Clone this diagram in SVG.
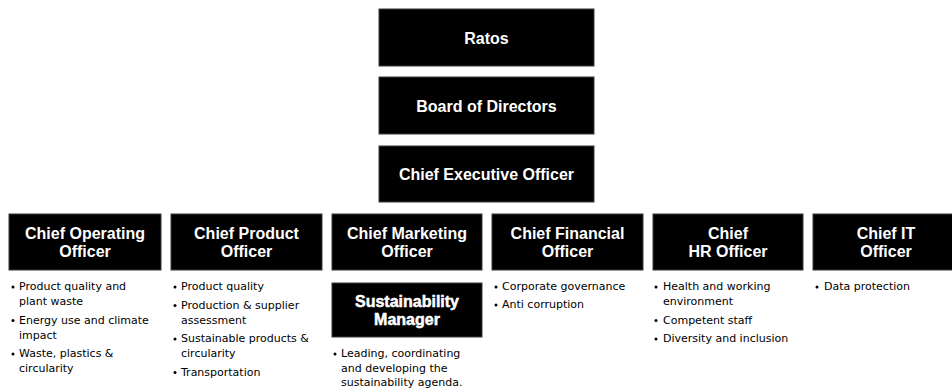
<svg xmlns="http://www.w3.org/2000/svg" width="952" height="389" viewBox="0 0 952 389">
  <style>
    .box { fill: #000; stroke: #3a3a3a; stroke-width: 1; }
    .title { font-family: "Liberation Sans", Arial, sans-serif; font-weight: bold; font-size: 16px; fill: #fff; text-anchor: middle; }
    .item { font-family: "DejaVu Sans", "Liberation Sans", sans-serif; font-size: 11px; fill: #000; }
    .dot { fill: #000; }
  </style>
  <rect width="952" height="389" fill="#fff"/>

  <!-- no connecting lines are drawn between the boxes -->
  <g id="connectors"/>

  <!-- top chain -->
  <g id="ratos">
    <rect class="box" x="379" y="9" width="215" height="57"/>
    <text class="title" x="486.5" y="44">Ratos</text>
  </g>
  <g id="board">
    <rect class="box" x="379" y="77" width="215" height="57"/>
    <text class="title" x="486.5" y="112">Board of Directors</text>
  </g>
  <g id="ceo">
    <rect class="box" x="379" y="146" width="215" height="56"/>
    <text class="title" x="486.5" y="180">Chief Executive Officer</text>
  </g>

  <!-- executive row -->
  <g id="coo">
    <rect class="box" x="9" y="214" width="152" height="56"/>
    <text class="title" x="85" y="239">Chief Operating</text>
    <text class="title" x="85" y="257">Officer</text>
    <circle class="dot" cx="13" cy="287" r="1.5"/>
    <text class="item" x="19" y="290">Product quality and</text>
    <text class="item" x="19" y="305">plant waste</text>
    <circle class="dot" cx="13" cy="320.5" r="1.5"/>
    <text class="item" x="19" y="323.5">Energy use and climate</text>
    <text class="item" x="19" y="338.5">impact</text>
    <circle class="dot" cx="13" cy="354" r="1.5"/>
    <text class="item" x="19" y="357">Waste, plastics &amp;</text>
    <text class="item" x="19" y="372">circularity</text>
  </g>

  <g id="cpo">
    <rect class="box" x="171" y="214" width="151" height="56"/>
    <text class="title" x="246.5" y="239">Chief Product</text>
    <text class="title" x="246.5" y="257">Officer</text>
    <circle class="dot" cx="175" cy="287" r="1.5"/>
    <text class="item" x="181" y="290">Product quality</text>
    <circle class="dot" cx="175" cy="305.5" r="1.5"/>
    <text class="item" x="181" y="308.5">Production &amp; supplier</text>
    <text class="item" x="181" y="323.5">assessment</text>
    <circle class="dot" cx="175" cy="339" r="1.5"/>
    <text class="item" x="181" y="342">Sustainable products &amp;</text>
    <text class="item" x="181" y="357">circularity</text>
    <circle class="dot" cx="175" cy="372.5" r="1.5"/>
    <text class="item" x="181" y="375.5">Transportation</text>
  </g>

  <g id="cmo">
    <rect class="box" x="332" y="214" width="150" height="56"/>
    <text class="title" x="407" y="239">Chief Marketing</text>
    <text class="title" x="407" y="257">Officer</text>
  </g>

  <g id="sustainability-manager">
    <rect class="box" x="332" y="283" width="150" height="54"/>
    <text class="title" x="407" y="307" style="stroke:#fff;stroke-width:0.5">Sustainability</text>
    <text class="title" x="407" y="325" style="stroke:#fff;stroke-width:0.5">Manager</text>
    <circle class="dot" cx="335" cy="354" r="1.5"/>
    <text class="item" x="341" y="357">Leading, coordinating</text>
    <text class="item" x="341" y="371.5">and developing the</text>
    <text class="item" x="341" y="386">sustainability agenda.</text>
  </g>

  <g id="cfo">
    <rect class="box" x="492" y="214" width="151" height="56"/>
    <text class="title" x="567.5" y="239">Chief Financial</text>
    <text class="title" x="567.5" y="257">Officer</text>
    <circle class="dot" cx="496" cy="287" r="1.5"/>
    <text class="item" x="502" y="290">Corporate governance</text>
    <circle class="dot" cx="496" cy="305" r="1.5"/>
    <text class="item" x="502" y="308">Anti corruption</text>
  </g>

  <g id="chro">
    <rect class="box" x="653" y="214" width="150" height="56"/>
    <text class="title" x="728" y="239">Chief</text>
    <text class="title" x="728" y="257">HR Officer</text>
    <circle class="dot" cx="656" cy="287" r="1.5"/>
    <text class="item" x="663" y="290">Health and working</text>
    <text class="item" x="663" y="305">environment</text>
    <circle class="dot" cx="656" cy="320.5" r="1.5"/>
    <text class="item" x="663" y="323.5">Competent staff</text>
    <circle class="dot" cx="656" cy="339" r="1.5"/>
    <text class="item" x="663" y="342">Diversity and inclusion</text>
  </g>

  <g id="cito">
    <rect class="box" x="813" y="214" width="146" height="56"/>
    <text class="title" x="886" y="239">Chief IT</text>
    <text class="title" x="886" y="257">Officer</text>
    <circle class="dot" cx="817" cy="287" r="1.5"/>
    <text class="item" x="824" y="290">Data protection</text>
  </g>
</svg>
